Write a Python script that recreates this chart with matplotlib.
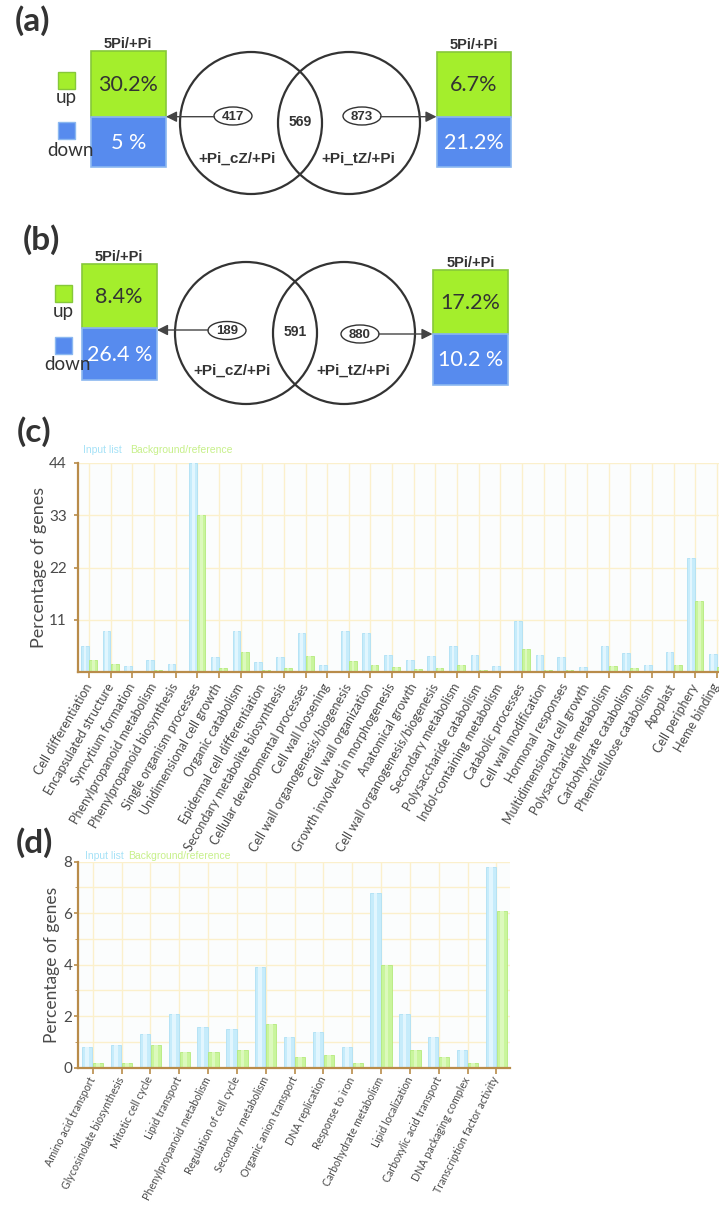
import matplotlib
matplotlib.use("Agg")
import matplotlib.pyplot as plt
from matplotlib.patches import Rectangle, Circle, Ellipse
from matplotlib.transforms import ScaledTranslation
import numpy as np

# ---------------- data ----------------
# (a) / (b): Venn counts and 5Pi/+Pi up/down percentages
venn_a = [417, 569, 873]
venn_b = [189, 591, 880]
pct_a_left = ["30.2%", "5 %"]
pct_a_right = ["6.7%", "21.2%"]
pct_b_left = ["8.4%", "26.4 %"]
pct_b_right = ["17.2%", "10.2 %"]
set_names = ["+Pi_cZ/+Pi", "+Pi_tZ/+Pi"]
box_title = "5Pi/+Pi"

# (c) GO categories
cats_c = [
    "Cell differentiation", "Encapsulated structure", "Syncytium formation",
    "Phenylpropanoid metabolism", "Phenylpropanoid biosynthesis",
    "Single organism processes", "Unidimensional cell growth",
    "Organic catabolism", "Epidermal cell differentiation",
    "Secondary metabolite biosynthesis", "Cellular developmental processes",
    "Cell wall loosening", "Cell wall organogenesis/biogenesis",
    "Cell wall organization", "Growth involved in morphogenesis",
    "Anatomical growth", "Cell wall organogenesis/biogenesis",
    "Secondary metabolism", "Polysaccharide catabolism",
    "Indol-containing metabolism", "Catabolic processes",
    "Cell wall modification", "Hormonal responses",
    "Multidimensional cell growth", "Polysaccharide metabolism",
    "Carbohydrate catabolism", "Phemicellulose catabolism", "Apoplast",
    "Cell periphery", "Heme binding",
]
input_c = [5.5, 8.6, 1.3, 2.6, 1.7, 44.0, 3.2, 8.6, 2.1, 3.2, 8.2, 1.5, 8.6,
           8.3, 3.6, 2.6, 3.4, 5.4, 3.6, 1.3, 10.7, 3.6, 3.2, 1.0, 5.4, 4.0,
           1.5, 4.2, 24.1, 3.8]
ref_c = [2.6, 1.7, 0.2, 0.5, 0.3, 33.0, 0.8, 4.2, 0.4, 0.9, 3.3, 0.1, 2.3,
         1.5, 1.0, 0.6, 0.8, 1.5, 0.5, 0.1, 4.8, 0.5, 0.4, 0.1, 1.3, 0.8,
         0.2, 1.5, 15.0, 1.0]
yticks_c = [11, 22, 33, 44]

# (d) GO categories
cats_d = [
    "Amino acid transport", "Glycosinolate biosynthesis", "Mitotic cell cycle",
    "Lipid transport", "Phenylpropanoid metabolism", "Regulation of cell cycle",
    "Secondary metabolism", "Organic anion transport", "DNA replication",
    "Response to iron", "Carbohydrate metabolism", "Lipid localization",
    "Carboxylic acid transport", "DNA packaging complex",
    "Transcription factor activity",
]
input_d = [0.8, 0.9, 1.3, 2.1, 1.6, 1.5, 3.9, 1.2, 1.4, 0.8, 6.8, 2.1, 1.2,
           0.7, 7.8]
ref_d = [0.2, 0.2, 0.9, 0.6, 0.6, 0.7, 1.7, 0.4, 0.5, 0.2, 4.0, 0.7, 0.4,
         0.2, 6.1]
yticks_d = [0, 2, 4, 6, 8]

legend_names = ["Input list", "Background/reference"]

# ---------------- style ----------------
GREEN_BOX = "#a4ee2c"
GREEN_EDGE = "#86c83a"
BLUE_BOX = "#578bee"
BLUE_EDGE = "#8bb8f0"
DARK = "#333333"
BAR_BLUE = "#c6ecfb"
BAR_BLUE_EDGE = "#aee0f5"
BAR_GREEN = "#c9f59c"
BAR_GREEN_EDGE = "#b4ea7c"
GRID = "#fbf0cc"
AXIS = "#b98c4a"
TXT = "#4a4a4a"

BODY = ["Lato", "DejaVu Sans"]
ARIAL = ["Liberation Sans", "DejaVu Sans"]
NARROW = ["Liberation Sans Narrow", "Liberation Sans", "DejaVu Sans"]

W, H = 719, 1205
fig = plt.figure(figsize=(W / 100, H / 100), dpi=100)
fig.patch.set_facecolor("white")

# overlay in pixel coordinates for the diagram panels and panel letters
ov = fig.add_axes([0, 0, 1, 1])
ov.set_xlim(0, W)
ov.set_ylim(H, 0)
ov.axis("off")


def pct_box(x0, x1, ytop, ymid, ybot, labels):
    ov.add_patch(Rectangle((x0, ytop), x1 - x0, ymid - ytop,
                           facecolor=GREEN_BOX, edgecolor=GREEN_EDGE, lw=1.2))
    ov.add_patch(Rectangle((x0, ymid), x1 - x0, ybot - ymid,
                           facecolor=BLUE_BOX, edgecolor=BLUE_EDGE, lw=1.2))
    cx = (x0 + x1) / 2
    ov.text(cx, (ytop + ymid) / 2 + 1, labels[0], ha="center", va="center",
            fontsize=15.5, color=DARK, family=BODY)
    ov.text(cx, (ymid + ybot) / 2 + 1, labels[1], ha="center", va="center",
            fontsize=15.5, color="white", family=BODY)
    ov.text(cx, ytop - 7, box_title, ha="center", va="center",
            fontsize=10.5, fontweight="bold", color=DARK, family=ARIAL)


def legend_keys(x0, ysq_up, ysq_down, y_up, y_down):
    s = 17
    ov.add_patch(Rectangle((x0, ysq_up), s, s, facecolor=GREEN_BOX,
                           edgecolor=GREEN_EDGE, lw=1))
    ov.add_patch(Rectangle((x0, ysq_down), s, s, facecolor=BLUE_BOX,
                           edgecolor=BLUE_EDGE, lw=1))
    ov.text(x0 + s / 2, y_up, "up", ha="center", va="center", fontsize=13.5,
            color=DARK, family=BODY)
    ov.text(x0 + s / 2 + 4, y_down, "down", ha="center", va="center",
            fontsize=13.5, color=DARK, family=BODY)


def venn(cl, cr, cy, r, counts, ell_l, ell_r, arrow_l, arrow_r, name_y):
    for cx in (cl, cr):
        ov.add_patch(Circle((cx, cy), r, facecolor="none", edgecolor=DARK,
                            lw=1.6))
    for (ex, ey), val in ((ell_l, counts[0]), (ell_r, counts[2])):
        ov.add_patch(Ellipse((ex, ey), 38, 18, facecolor="white",
                             edgecolor=DARK, lw=1.0, zorder=3))
        ov.text(ex, ey + 0.5, str(val), ha="center", va="center", fontsize=9.5,
                fontweight="bold", color=DARK, family=ARIAL, zorder=4)
    ov.text((cl + cr) / 2, cy - 1, str(counts[1]), ha="center", va="center",
            fontsize=10, fontweight="bold", color=DARK, family=ARIAL)
    ov.annotate("", xy=arrow_l[1], xytext=arrow_l[0],
                arrowprops=dict(arrowstyle="-|>", color="#444444", lw=1.0,
                                mutation_scale=16, shrinkA=0, shrinkB=0))
    ov.annotate("", xy=arrow_r[1], xytext=arrow_r[0],
                arrowprops=dict(arrowstyle="-|>", color="#444444", lw=1.0,
                                mutation_scale=16, shrinkA=0, shrinkB=0))
    ov.text(cl - 14, name_y, set_names[0], ha="center", va="center",
            fontsize=11, fontweight="bold", color=DARK, family=ARIAL)
    ov.text(cr + 9, name_y, set_names[1], ha="center", va="center",
            fontsize=11, fontweight="bold", color=DARK, family=ARIAL)


# ---- panel (a)
ov.text(32, 21, "(a)", ha="center", va="center", fontsize=24,
        fontweight="bold", color=DARK, family=BODY)
legend_keys(58, 72, 122, 98, 150)
pct_box(90.7, 165.7, 51, 116.7, 166.7, pct_a_left)
pct_box(436.7, 510.7, 51.7, 116.7, 166.7, pct_a_right)
venn(251, 349, 123, 71, venn_a, (233, 116), (362, 116),
     ((214.5, 116.7), (166, 116.7)), ((380.5, 116.7), (436.5, 116.7)), 159)

# ---- panel (b)
ov.text(41, 240, "(b)", ha="center", va="center", fontsize=24,
        fontweight="bold", color=DARK, family=BODY)
legend_keys(55, 285, 337, 312, 365)
pct_box(81.7, 156.7, 264, 328.3, 380, pct_b_left)
pct_box(432.7, 508.3, 270, 334, 385, pct_b_right)
venn(246, 344, 333, 71, venn_b, (227, 330.5), (360, 334),
     ((208.5, 330), (157, 330)), ((378.5, 334), (432.5, 334)), 371)

# ---- panel letters for the bar charts
ov.text(34, 432, "(c)", ha="center", va="center", fontsize=24,
        fontweight="bold", color=DARK, family=BODY)
ov.text(34, 843, "(d)", ha="center", va="center", fontsize=24,
        fontweight="bold", color=DARK, family=BODY)


def go_bars(ax, cats, vin, vref, ymax, yticks, hgrid, rot, lab_fs, ylab_fs,
            ytick_fs, ytick_pad, xlim, leg_x, leg_y, lab_shift, xpad):
    x = np.arange(len(cats))
    w = 0.36
    ax.set_facecolor("#fbfdfd")
    for gy in hgrid:
        ax.axhline(gy, color=GRID, lw=1.0, zorder=0)
    for gx in x:
        ax.axvline(gx, color=GRID, lw=1.0, zorder=0)
    ax.bar(x - w / 2 - 0.01, vin, width=w, color=BAR_BLUE,
           edgecolor=BAR_BLUE_EDGE, lw=0.6, zorder=2)
    ax.bar(x - w / 2 - 0.01, vin, width=w * 0.35, color="#e2f6fe",
           lw=0, zorder=3)
    ax.bar(x + w / 2 + 0.01, vref, width=w, color=BAR_GREEN,
           edgecolor=BAR_GREEN_EDGE, lw=0.6, zorder=2)
    ax.bar(x + w / 2 + 0.01, vref, width=w * 0.35, color="#dcf9bd",
           lw=0, zorder=3)
    ax.set_xlim(*xlim)
    ax.set_ylim(0, ymax)
    ax.set_yticks(yticks)
    ax.set_yticklabels([str(t) for t in yticks], fontsize=ytick_fs,
                       color=TXT, family=BODY)
    ax.set_xticks(x)
    labels = ax.set_xticklabels(cats, rotation=rot, ha="right", va="center",
                                rotation_mode="anchor", fontsize=lab_fs,
                                color=TXT, family=BODY)
    for i, lab in enumerate(labels):
        dx = lab_shift + (5 if i == len(labels) - 1 else 0)
        shift = ScaledTranslation(-dx / 100, 0, fig.dpi_scale_trans)
        lab.set_transform(lab.get_transform() + shift)
    ax.tick_params(axis="x", length=4, width=1.2, color=AXIS, pad=xpad)
    ax.tick_params(axis="y", length=3, width=1.2, color=AXIS, pad=ytick_pad)
    for s in ("top", "right"):
        ax.spines[s].set_visible(False)
    for s in ("left", "bottom"):
        ax.spines[s].set_color(AXIS)
        ax.spines[s].set_linewidth(1.6)
        ax.spines[s].set_zorder(5)
    ax.set_ylabel("Percentage of genes", fontsize=ylab_fs, color=TXT,
                  family=BODY, labelpad=4)
    ax.text(leg_x[0], leg_y, legend_names[0], transform=ax.transAxes,
            color="#a6e2f7", fontsize=7.5, family=NARROW, va="center",
            ha="left")
    ax.text(leg_x[1], leg_y, legend_names[1], transform=ax.transAxes,
            color="#c7f08a", fontsize=7.5, family=NARROW, va="center",
            ha="left")


# ---- panel (c)
axc = fig.add_axes([78 / W, 1 - 672 / H, 641 / W, 209 / H])
go_bars(axc, cats_c, input_c, ref_c, 44, yticks_c, yticks_c, 60, 9.0, 13,
        11, 5, (-0.51, 29.1), (0.008, 0.081), 1.062, 7, 5)
axc.yaxis.set_label_coords(-0.048, 0.5)

# ---- panel (d)
axd = fig.add_axes([78 / W, 1 - 1067.7 / H, 432 / W, 206 / H])
go_bars(axd, cats_d, input_d, ref_d, 8, yticks_d, range(1, 9), 63, 7.7, 12.5,
        11, 1, (-0.51, 14.47), (0.016, 0.116), 1.03, 4, 3)
axd.set_yticks([1, 3, 5, 7], minor=True)
axd.tick_params(axis="y", which="minor", length=2, color=AXIS)
axd.yaxis.set_label_coords(-0.042, 0.5)

fig.savefig("out.png", dpi=100, facecolor="white")
